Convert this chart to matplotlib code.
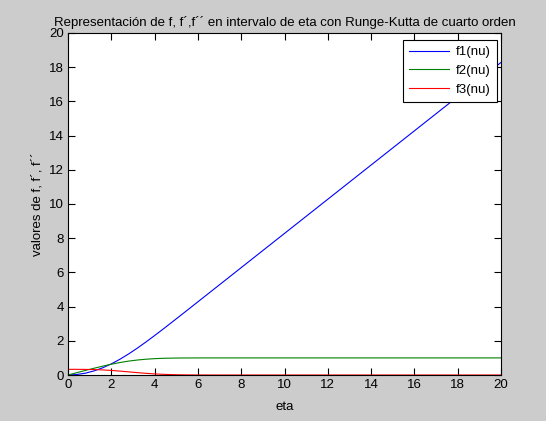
import numpy as np
import matplotlib
matplotlib.use('Agg')
import matplotlib.pyplot as plt

plt.rcParams['font.family'] = ['Liberation Sans', 'DejaVu Sans']

# Blasius-type profile
eta = [0, 0.4, 0.8, 1.2, 1.6, 2.0, 2.4, 2.8, 3.2, 3.6, 4.0, 4.4, 4.8, 5.2,
       5.6, 6.0, 6.4, 6.8, 7.2, 8.0, 10, 12, 14, 16, 18, 20]
f1 = [0, 0.027, 0.106, 0.238, 0.420, 0.650, 0.922, 1.231, 1.569, 1.930,
      2.306, 2.692, 3.085, 3.482, 3.880, 4.280, 4.679, 5.079, 5.479, 6.279,
      8.279, 10.279, 12.279, 14.279, 16.279, 18.279]
f2 = [0, 0.133, 0.265, 0.394, 0.517, 0.630, 0.729, 0.812, 0.876, 0.923,
      0.956, 0.976, 0.988, 0.994, 0.997, 0.999, 1.0, 1.0, 1.0, 1.0,
      1.0, 1.0, 1.0, 1.0, 1.0, 1.0]
f3 = [0.332, 0.331, 0.327, 0.317, 0.297, 0.267, 0.228, 0.184, 0.139, 0.098,
      0.064, 0.039, 0.022, 0.011, 0.005, 0.002, 0.001, 0.0, 0.0, 0.0,
      0.0, 0.0, 0.0, 0.0, 0.0, 0.0]
labels = ['f1(nu)', 'f2(nu)', 'f3(nu)']

fig = plt.figure(figsize=(5.46, 4.21), dpi=100, facecolor='#cccccc')
ax = fig.add_axes([68/546, 46/421, 433/546, 342/421])
ax.set_facecolor('white')

ax.plot(eta, f1, color=(0, 0, 1), lw=0.8, label=labels[0])
ax.plot(eta, f2, color=(0, 0.5, 0), lw=0.8, label=labels[1])
ax.plot(eta, f3, color=(1, 0, 0), lw=0.8, label=labels[2])

ax.set_xlim(0, 20)
ax.set_ylim(0, 20)
ax.set_xticks(np.arange(0, 21, 2))
ax.set_yticks(np.arange(0, 21, 2))
ax.tick_params(direction='in', length=5, width=0.8, top=True, right=True,
               labelsize=9.5, pad=3)
for s in ax.spines.values():
    s.set_linewidth(0.8)

ax.set_title('Representación de f, f´,f´´ en intervalo de eta con Runge-Kutta de cuarto orden',
             fontsize=9.5, pad=5)
ax.set_xlabel('eta', fontsize=9.5, labelpad=7)
ax.set_ylabel('valores de f, f´, f´´', fontsize=9.5, labelpad=4)

leg = ax.legend(loc='upper right', bbox_to_anchor=(0.9908, 0.9795),
                fontsize=9.5, frameon=True, fancybox=False,
                edgecolor='black', framealpha=1, handlelength=3.0,
                borderaxespad=0, borderpad=0.45, labelspacing=0.5,
                handletextpad=0.55)
leg.get_frame().set_linewidth(0.8)

fig.savefig('out.png', dpi=100, facecolor=fig.get_facecolor())
